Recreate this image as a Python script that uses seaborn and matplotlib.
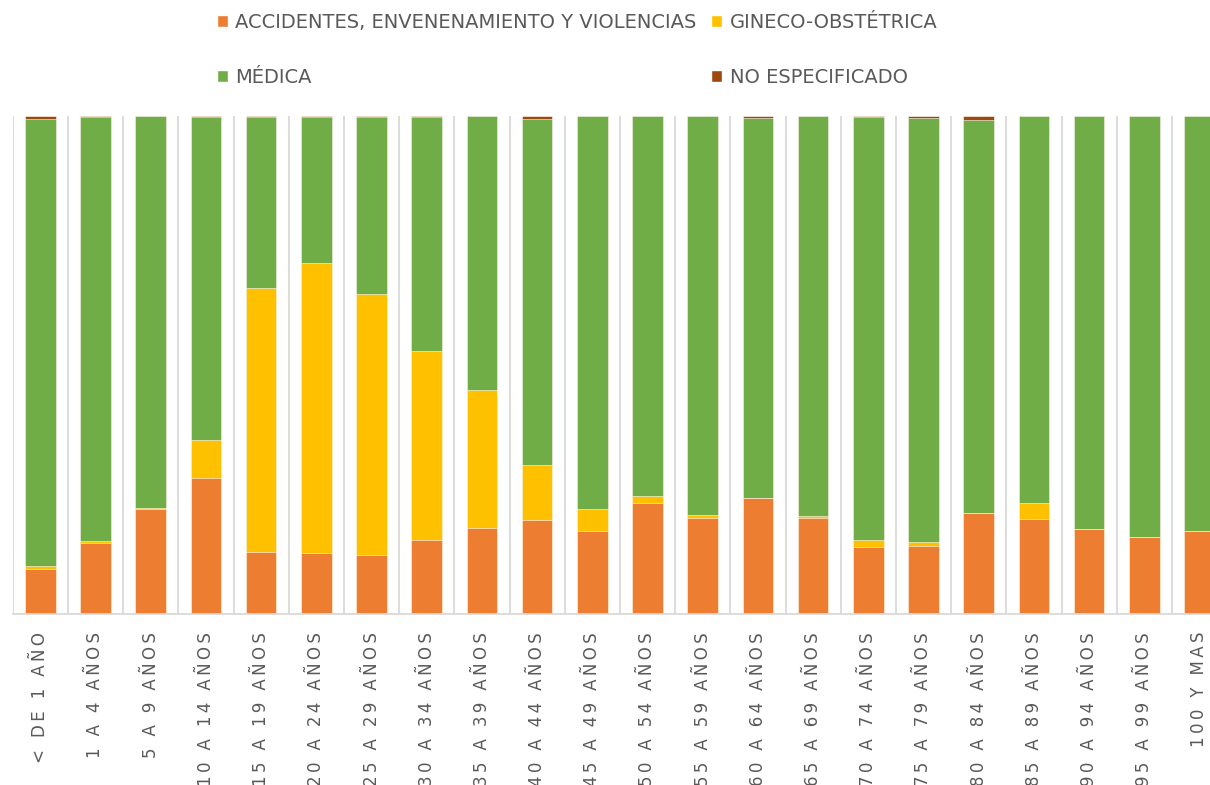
import numpy as np
import pandas as pd
import matplotlib
matplotlib.use("Agg")
import matplotlib.pyplot as plt
import seaborn as sns
from matplotlib.patches import Patch

sns.set_style("white")
plt.rcParams['font.family'] = ['DejaVu Sans']

grupos = ["< DE 1 AÑO", "1 A 4 AÑOS", "5 A 9 AÑOS", "10 A 14 AÑOS", "15 A 19 AÑOS",
          "20 A 24 AÑOS", "25 A 29 AÑOS", "30 A 34 AÑOS", "35 A 39 AÑOS", "40 A 44 AÑOS",
          "45 A 49 AÑOS", "50 A 54 AÑOS", "55 A 59 AÑOS", "60 A 64 AÑOS", "65 A 69 AÑOS",
          "70 A 74 AÑOS", "75 A 79 AÑOS", "80 A 84 AÑOS", "85 A 89 AÑOS", "90 A 94 AÑOS",
          "95 A 99 AÑOS", "100 Y MAS"]

# porcentajes por grupo de edad
accidentes = [8.9, 14.2, 20.9, 27.3, 12.4, 12.1, 11.8, 14.7, 17.2, 18.8, 16.6,
              22.2, 19.2, 23.1, 19.2, 13.4, 13.6, 20.1, 19.0, 17.0, 15.3, 16.5]
gineco = [0.6, 0.3, 0.3, 7.5, 53.0, 58.3, 52.3, 38.0, 27.7, 11.0, 4.4,
          1.3, 0.6, 0.1, 0.3, 1.3, 0.7, 0.1, 3.2, 0.0, 0.0, 0.0]
medica = [89.7, 85.1, 78.6, 64.9, 34.2, 29.2, 35.6, 46.9, 55.1, 69.5, 78.8,
          76.3, 80.2, 76.2, 80.5, 84.9, 85.1, 78.9, 77.8, 83.0, 84.7, 83.5]
no_especificado = [0.8, 0.4, 0.2, 0.3, 0.4, 0.4, 0.3, 0.4, 0.0, 0.7, 0.2,
                   0.2, 0.0, 0.6, 0.0, 0.4, 0.6, 0.9, 0.0, 0.0, 0.0, 0.0]

series = ["ACCIDENTES, ENVENENAMIENTO Y VIOLENCIAS", "GINECO-OBSTÉTRICA",
          "MÉDICA", "NO ESPECIFICADO"]
colores = ["#ED7D31", "#FFC000", "#70AD47", "#9E480E"]

df = pd.DataFrame({"grupo": grupos, "acc": accidentes, "gin": gineco,
                   "med": medica, "nesp": no_especificado})
# 100% apilado
total = df[["acc", "gin", "med", "nesp"]].sum(axis=1)
for c in ["acc", "gin", "med", "nesp"]:
    df[c] = df[c] / total * 100
df["c1"] = df["acc"]
df["c2"] = df["c1"] + df["gin"]
df["c3"] = df["c2"] + df["med"]
df["c4"] = df["c3"] + df["nesp"]

fig = plt.figure(figsize=(12.1, 7.85), dpi=100)
ax = fig.add_axes([12.7 / 1210, (785 - 613.5) / 785, 1214.4 / 1210, 498 / 785])

for col, color in zip(["c4", "c3", "c2", "c1"], colores[::-1]):
    sns.barplot(data=df, x="grupo", y=col, color=color, saturation=1, width=0.556,
                errorbar=None, edgecolor="white", linewidth=0.4, ax=ax)

ax.set_ylim(0, 100)
ax.set_xlim(-0.5, len(grupos) - 0.5)
ax.set_xlabel("")
ax.set_ylabel("")
ax.set_yticks([])
for s in ["top", "left", "right"]:
    ax.spines[s].set_visible(False)
ax.spines["bottom"].set_color("#D9D9D9")
ax.spines["bottom"].set_linewidth(1.3)

ax.set_xticks(np.arange(-0.5, len(grupos), 1), minor=True)
ax.grid(which="minor", axis="x", color="#D9D9D9", linewidth=1.3)
ax.grid(which="major", visible=False)
ax.set_axisbelow(True)
ax.tick_params(axis="x", which="both", length=0)

spaced = ["\u2009".join(list(g)) for g in grupos]
ax.set_xticks(range(len(grupos)))
ax.set_xticklabels(spaced, rotation=90, ha="center", va="top")
ax.tick_params(axis="x", pad=13.3, labelsize=12, labelcolor="#595959")

handles = [Patch(facecolor=colores[0], label=series[0]),
           Patch(facecolor=colores[2], label=series[2]),
           Patch(facecolor=colores[1], label=series[1]),
           Patch(facecolor=colores[3], label=series[3])]
fig.legend(handles=handles, ncol=2, loc="upper left",
           bbox_to_anchor=(217 / 1210, 1 - 13 / 785), frameon=False,
           fontsize=14, labelcolor="#595959", handlelength=0.55, handleheight=0.55,
           handletextpad=0.4, columnspacing=0.75, labelspacing=1.86,
           borderpad=0, borderaxespad=0)

fig.savefig("out.png", dpi=100)
